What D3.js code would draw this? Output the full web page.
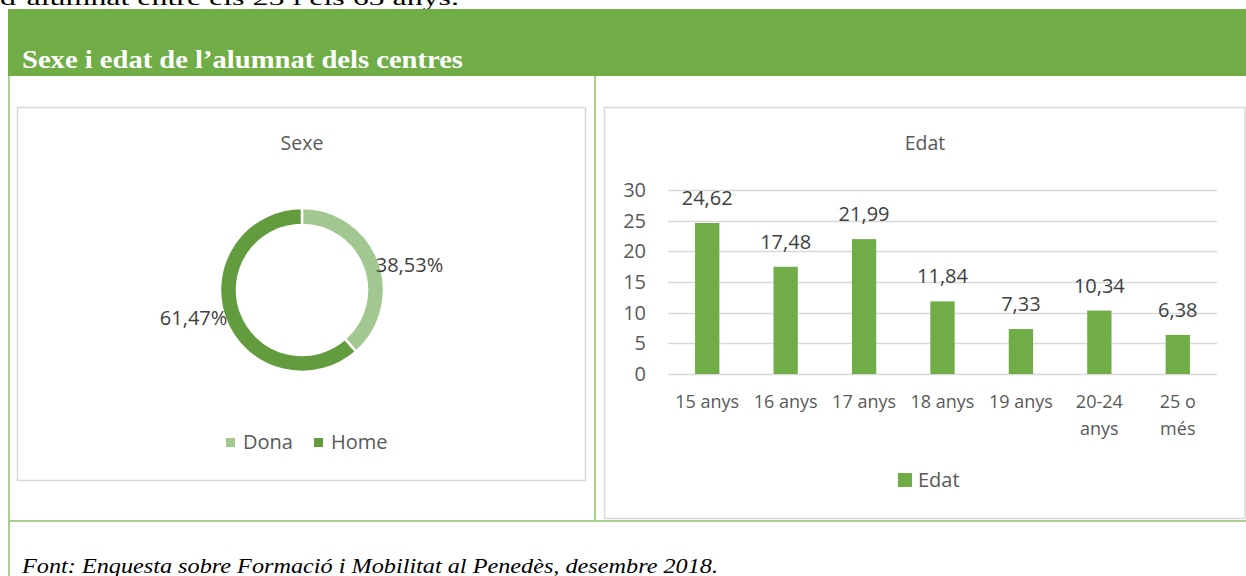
<!DOCTYPE html>
<html>
<head>
<meta charset="utf-8">
<script src="https://cdn.jsdelivr.net/npm/d3@7"></script>
<style>
  html, body { margin: 0; padding: 0; background: #fff; }
  svg { display: block; }
</style>
</head>
<body>
<svg id="chart" width="1246" height="576"></svg>
<script>
// ---- Data ----
const introText = "d’alumnat entre els 25 i els 65 anys.";
const headerTitle = "Sexe i edat de l’alumnat dels centres";
const footerText = "Font: Enquesta sobre Formació i Mobilitat al Penedès, desembre 2018.";

const sexTitle = "Sexe";
const sexCategories = ["Dona", "Home"];
const sexValues = [38.53, 61.47];

const ageTitle = "Edat";
const ageSeriesName = "Edat";
const ageCategories = ["15 anys", "16 anys", "17 anys", "18 anys", "19 anys", "20-24 anys", "25 o més"];
const ageValues = [24.62, 17.48, 21.99, 11.84, 7.33, 10.34, 6.38];
const ageTicks = [0, 5, 10, 15, 20, 25, 30];

// ---- Styles ----
const GREEN = "#70AD47";
const LIGHT_BORDER = "#A9D18E";
const BOX_BORDER = "#D9D9D9";
const TEXT = "#595959";
const DARK_TEXT = "#404040";
const sexColors = ["#A3C791", "#629C3E"];
const FONT = "'Open Sans', sans-serif";
const SERIF = "'Liberation Serif', 'DejaVu Serif', serif";

const fmt = v => d3.format(".2f")(v).replace(".", ",");

const svg = d3.select("#chart");

// Intro text (cut off at top)
svg.append("text")
  .attr("x", 0).attr("y", 5)
  .attr("font-family", SERIF).attr("font-size", 22)
  .attr("fill", "#000")
  .attr("textLength", 459).attr("lengthAdjust", "spacingAndGlyphs")
  .text(introText);

// Header band
svg.append("rect").attr("x", 8).attr("y", 9).attr("width", 1238).attr("height", 67).attr("fill", GREEN);
svg.append("text")
  .attr("x", 22).attr("y", 68)
  .attr("font-family", SERIF).attr("font-size", 25).attr("font-weight", "bold")
  .attr("fill", "#fff")
  .attr("textLength", 441).attr("lengthAdjust", "spacingAndGlyphs")
  .text(headerTitle);

// Table borders
const borders = svg.append("g").attr("stroke", LIGHT_BORDER).attr("stroke-width", 2).attr("fill", "none");
borders.append("line").attr("x1", 9).attr("x2", 9).attr("y1", 76).attr("y2", 576);
borders.append("line").attr("x1", 595).attr("x2", 595).attr("y1", 76).attr("y2", 520);
borders.append("line").attr("x1", 8).attr("x2", 1246).attr("y1", 521).attr("y2", 521);

// Chart boxes
svg.append("rect").attr("x", 17.5).attr("y", 107.5).attr("width", 568).attr("height", 373)
  .attr("fill", "#fff").attr("stroke", BOX_BORDER).attr("stroke-width", 1.5);
svg.append("rect").attr("x", 604.5).attr("y", 107.5).attr("width", 640.5).attr("height", 411)
  .attr("fill", "#fff").attr("stroke", BOX_BORDER).attr("stroke-width", 1.5);

// Footer
svg.append("text")
  .attr("x", 22).attr("y", 573)
  .attr("font-family", SERIF).attr("font-size", 21).attr("font-style", "italic")
  .attr("fill", "#000")
  .attr("textLength", 696).attr("lengthAdjust", "spacingAndGlyphs")
  .text(footerText);

// ---- Donut ----
svg.append("text").attr("x", 302).attr("y", 150).attr("text-anchor", "middle")
  .attr("font-family", FONT).attr("font-size", 19.5).attr("fill", TEXT).text(sexTitle);

const cx = 302, cy = 290, rOuter = 82, rInner = 65;
const pie = d3.pie().sort(null).value(d => d)(sexValues);
const arc = d3.arc().innerRadius(rInner).outerRadius(rOuter);
const dg = svg.append("g").attr("transform", `translate(${cx},${cy})`);
dg.selectAll("path").data(pie).join("path")
  .attr("d", arc)
  .attr("fill", (d, i) => sexColors[i])
  .attr("stroke", "#fff").attr("stroke-width", 2.5);

const total = d3.sum(sexValues);
dg.selectAll("text.lbl").data(pie).join("text")
  .attr("class", "lbl")
  .each(function (d) {
    const a = (d.startAngle + d.endAngle) / 2;
    const x = Math.sin(a) * rOuter, y = -Math.cos(a) * rOuter;
    d3.select(this)
      .attr("x", x + (x > 0 ? -3 : 2))
      .attr("y", y + (y < 0 ? 4 : -1))
      .attr("dy", "0.35em")
      .attr("text-anchor", x > 0 ? "start" : "end");
  })
  .attr("font-family", FONT).attr("font-size", 20).attr("fill", DARK_TEXT)
  .text(d => fmt(d.data / total * 100) + "%");

// Sex legend
const sl = svg.append("g");
const sexLegendX = [226, 314];
sexCategories.forEach((c, i) => {
  sl.append("rect").attr("x", sexLegendX[i]).attr("y", 438).attr("width", 9).attr("height", 9).attr("fill", sexColors[i]);
  sl.append("text").attr("x", sexLegendX[i] + 17).attr("y", 449)
    .attr("font-family", FONT).attr("font-size", 20).attr("fill", TEXT).text(c);
});

// ---- Bar chart ----
svg.append("text").attr("x", 925).attr("y", 150).attr("text-anchor", "middle")
  .attr("font-family", FONT).attr("font-size", 19.5).attr("fill", TEXT).text(ageTitle);

const x0 = 668, x1 = 1217, yTop = 190, yBot = 374;
const x = d3.scaleBand().domain(ageCategories).range([x0, x1]).paddingInner(0.69).paddingOuter(0.345);
const y = d3.scaleLinear().domain([0, 30]).range([yBot, yTop]);

const bg = svg.append("g");
// gridlines
bg.selectAll("line.grid").data(ageTicks).join("line")
  .attr("class", "grid")
  .attr("x1", x0).attr("x2", x1)
  .attr("y1", d => Math.round(y(d)) + 0.5).attr("y2", d => Math.round(y(d)) + 0.5)
  .attr("stroke", BOX_BORDER).attr("stroke-width", 1.5);

// y axis labels
const yAxis = d3.axisLeft(y).tickValues(ageTicks).tickSize(0).tickPadding(0).tickFormat(d3.format("d"));
const yg = svg.append("g").attr("transform", `translate(646,0)`).call(yAxis);
yg.select(".domain").remove();
yg.selectAll("text").attr("font-family", FONT).attr("font-size", 20).attr("fill", TEXT);

// bars
bg.selectAll("rect.bar").data(ageValues).join("rect")
  .attr("class", "bar")
  .attr("x", (d, i) => x(ageCategories[i]))
  .attr("width", x.bandwidth())
  .attr("y", d => y(d))
  .attr("height", d => yBot - y(d))
  .attr("fill", GREEN);

// data labels
bg.selectAll("text.val").data(ageValues).join("text")
  .attr("class", "val")
  .attr("x", (d, i) => x(ageCategories[i]) + x.bandwidth() / 2)
  .attr("y", d => y(d) - 18)
  .attr("text-anchor", "middle")
  .attr("font-family", FONT).attr("font-size", 20).attr("fill", DARK_TEXT)
  .text(d => fmt(d));

// x axis labels (with wrapping)
const xAxis = d3.axisBottom(x).tickSize(0).tickPadding(0);
const xg = svg.append("g").attr("transform", `translate(0,${yBot})`).call(xAxis);
xg.select(".domain").remove();
xg.selectAll("text").remove();
xg.selectAll(".tick").each(function (label) {
  const t = d3.select(this).append("text")
    .attr("text-anchor", "middle")
    .attr("font-family", FONT).attr("font-size", 18).attr("fill", TEXT);
  const words = label.split(" ");
  const lines = words.length > 2 || label.length > 8
    ? [words.slice(0, words.length - 1).join(" "), words[words.length - 1]]
    : [label];
  lines.forEach((ln, k) => {
    t.append("tspan").attr("x", 0).attr("y", 34 + k * 27).text(ln);
  });
});

// bar legend
svg.append("rect").attr("x", 898).attr("y", 473).attr("width", 14).attr("height", 14).attr("fill", GREEN);
svg.append("text").attr("x", 918).attr("y", 487)
  .attr("font-family", FONT).attr("font-size", 20).attr("fill", TEXT).text(ageSeriesName);
</script>
</body>
</html>
